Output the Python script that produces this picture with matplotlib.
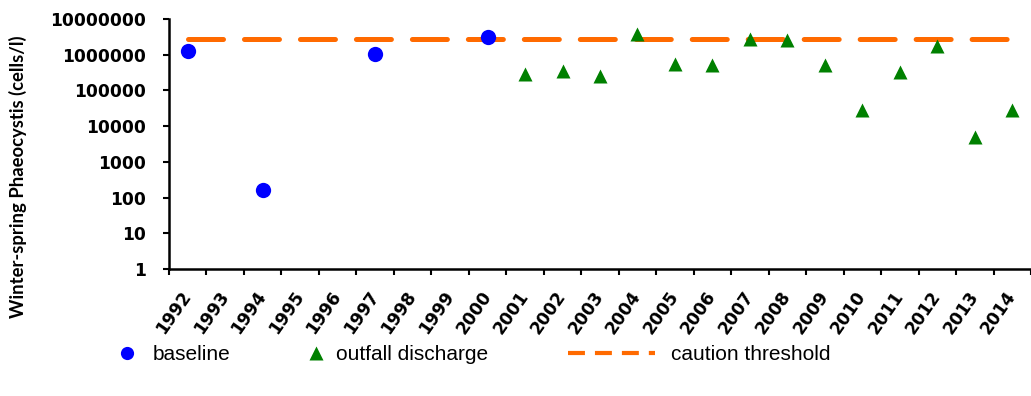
import numpy as np
import matplotlib
matplotlib.use("Agg")
import matplotlib.pyplot as plt
from matplotlib.lines import Line2D
from matplotlib.ticker import FixedLocator, NullLocator

years = [str(y) for y in range(1992, 2015)]
baseline_years = ["1992", "1994", "1997", "2000"]
baseline_vals = [1.3e6, 162, 1.05e6, 3.2e6]
outfall_years = ["2001", "2002", "2003", "2004", "2005", "2006", "2007",
                 "2008", "2009", "2010", "2011", "2012", "2013", "2014"]
outfall_vals = [2.9e5, 3.6e5, 2.6e5, 3.8e6, 5.5e5, 5.2e5, 2.8e6,
                2.65e6, 5.3e5, 2.75e4, 3.2e5, 1.7e6, 5.0e3, 2.75e4]
caution_threshold = 2.8e6
ytick_vals = [1, 10, 100, 1000, 10000, 100000, 1000000, 10000000]

plt.rcParams['lines.scale_dashes'] = False

W, H = 1031, 396
fig = plt.figure(figsize=(W / 100, H / 100), dpi=100)
ax_left, ax_right, ax_top, ax_bot = 169, 1031, 19, 269
ax = fig.add_axes([ax_left / W, 1 - ax_bot / H, (ax_right - ax_left) / W, (ax_bot - ax_top) / H])

idx = {y: i for i, y in enumerate(years)}
bx = [idx[y] for y in baseline_years]
ox = [idx[y] for y in outfall_years]

ax.plot([0, len(years) - 1], [caution_threshold] * 2, color='#FF6A00', lw=3.6,
        dashes=(25.2, 15.1), dash_capstyle='round', solid_capstyle='round', zorder=2)
ax.plot(bx, baseline_vals, 'o', color='#0000FF', ms=11, mec='none', zorder=3)
ax.plot(ox, outfall_vals, '^', color='#008000', ms=10.5, mec='none', zorder=3)

ax.set_yscale('log')
ax.set_ylim(1, 1e7)
ax.yaxis.set_major_locator(FixedLocator(ytick_vals))
ax.yaxis.set_minor_locator(NullLocator())
ax.set_yticklabels([str(v) for v in ytick_vals])

step = 831 / 22
ax.set_xlim(-0.5, -0.5 + (ax_right - ax_left) / step)
ax.set_xticks(np.arange(-0.5, len(years), 1.0))
ax.set_xticklabels([])
ax.set_xticks(range(len(years)), minor=True)
ax.set_xticklabels(years, minor=True, rotation=55, ha='right', va='center',
                   rotation_mode='anchor')

for s in ['top', 'right']:
    ax.spines[s].set_visible(False)
for s in ['left', 'bottom']:
    ax.spines[s].set_linewidth(1.8)
ax.tick_params(axis='both', which='major', direction='out', length=4.5, width=1.5)
ax.tick_params(axis='x', which='minor', length=0, pad=17)
ax.tick_params(axis='y', pad=12)
for lab in ax.get_yticklabels() + ax.get_xticklabels(minor=True):
    lab.set_fontfamily('DejaVu Sans')
    lab.set_fontweight('bold')
    lab.set_fontsize(12.3)

fig.text(18 / W, 1 - 177 / H, 'Winter-spring Phaeocystis (cells/l)', rotation=90,
         ha='center', va='center', fontsize=13.3, fontweight='bold', family='Lato')

yl = 1 - 355 / H
common = dict(frameon=False, loc='center left', borderpad=0, borderaxespad=0,
              prop={'family': 'Liberation Sans', 'size': 15})
h1 = Line2D([], [], ls='none', marker='o', color='#0000FF', ms=9.5, mec='none')
h2 = Line2D([], [], ls='none', marker='^', color='#008000', ms=10, mec='none')
h3 = Line2D([], [], color='#FF6A00', lw=3, dashes=(12.2, 7.2), dash_capstyle='butt')
hl1, hl2, hl3 = 16.7 / 15 / (100 / 72), 16.7 / 15 / (100 / 72), 87 / 15 / (100 / 72)
l1 = fig.legend([h1], ['baseline'], bbox_to_anchor=(118.6 / W, yl), handlelength=hl1,
                handletextpad=(153 - 135.3) / 15 / (100 / 72), **common)
l2 = fig.legend([h2], ['outfall discharge'], bbox_to_anchor=(307.6 / W, yl), handlelength=hl2,
                handletextpad=(336 - 324.3) / 15 / (100 / 72), **common)
l3 = fig.legend([h3], ['caution threshold'], bbox_to_anchor=(568 / W, yl), handlelength=hl3,
                handletextpad=(671 - 655) / 15 / (100 / 72), **common)

fig.savefig('out.png', dpi=100)
